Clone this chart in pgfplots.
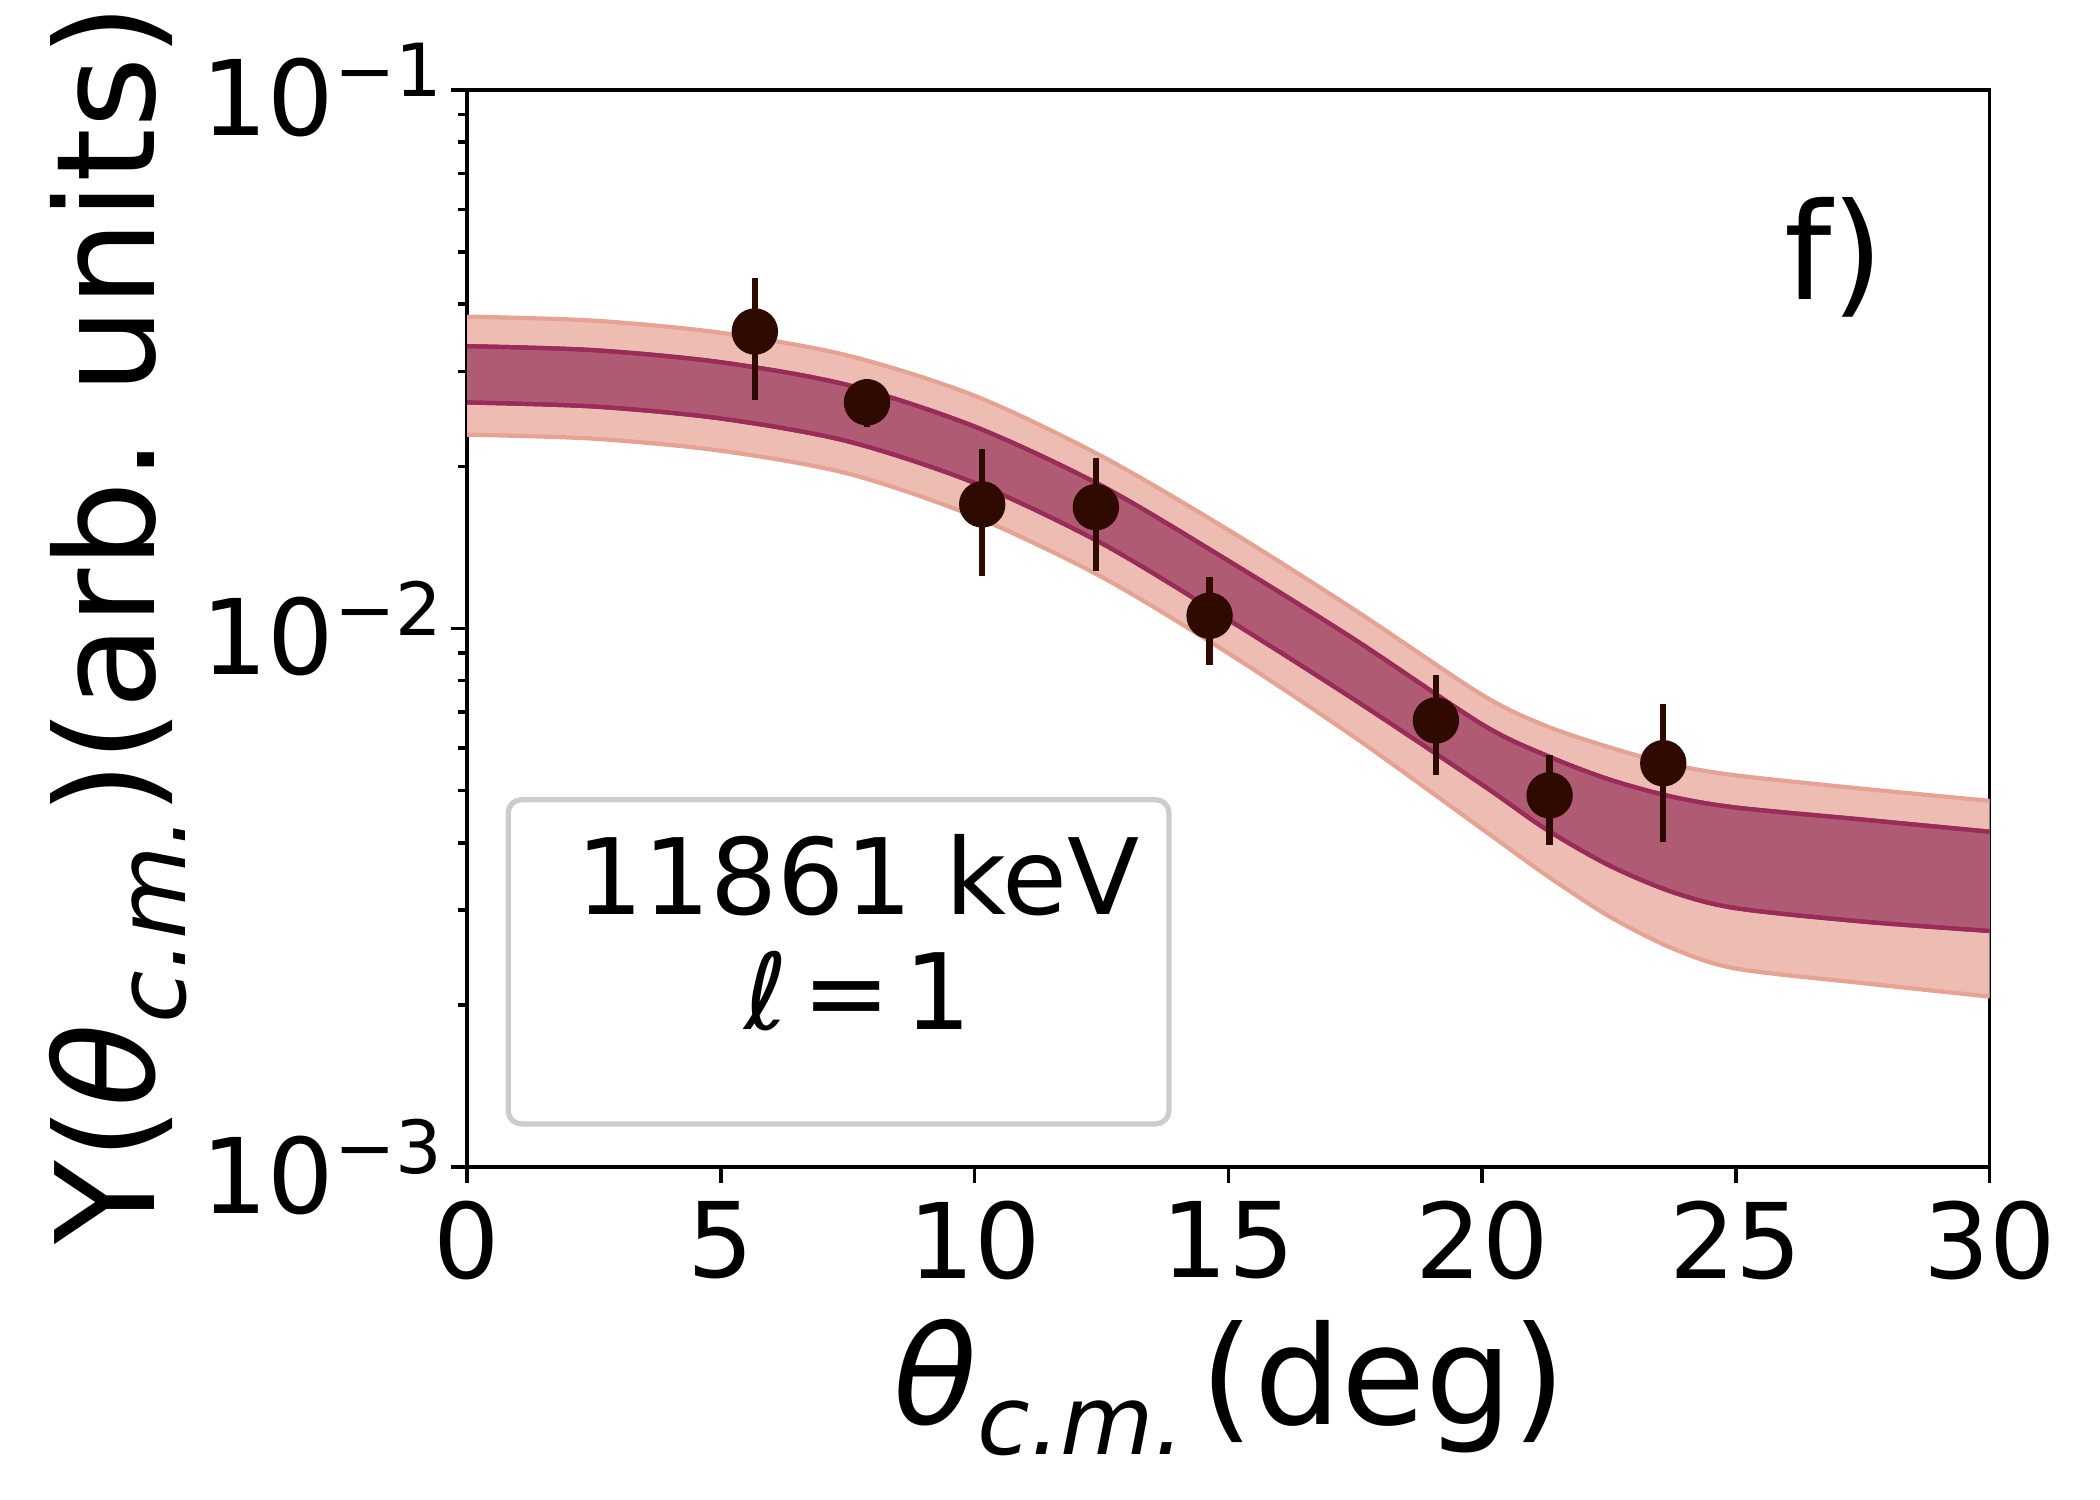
\documentclass[border=0pt]{standalone}
\usepackage{fontspec}
\setmainfont{DejaVu Sans}
\usepackage{pgfplots}
\usepackage{pgfplotstable}
\pgfplotsset{compat=1.18}
\usepgfplotslibrary{fillbetween}
\frenchspacing
\definecolor{lightfill}{HTML}{EDBDB3}
\definecolor{lightedge}{HTML}{E6A393}
\definecolor{darkfill}{HTML}{B05B74}
\definecolor{darkedge}{HTML}{9A2C5A}
\definecolor{ptcol}{HTML}{2E0A00}
\newcommand{\tenexp}[1]{10\raisebox{7.5pt}{\fontsize{13.9}{13.9}\selectfont −#1}}
\newcommand{\thcm}{\textit{θ}\raisebox{-5.7pt}{\fontsize{18.2}{18.2}\selectfont\itshape c.m.}}

\pgfplotstableread{
theta lt dt db lb
0     0.03794 0.03344 0.02628 0.02290
2.5   0.03729 0.03287 0.02583 0.02251
5     0.03541 0.03122 0.02454 0.02138
7.5   0.03213 0.02832 0.02226 0.01940
10    0.02705 0.02371 0.01863 0.01614
12.5  0.02090 0.01842 0.01440 0.01247
15    0.01524 0.01336 0.01038 0.008994
17.5  0.01081 0.009524 0.007358 0.006268
20    0.007529 0.006636 0.005127 0.004243
21.25 0.006598 0.005818 0.004243 0.003490
22.5  0.006021 0.005245 0.003633 0.002922
23.75 0.005587 0.004869 0.003240 0.002547
25    0.005336 0.004651 0.003024 0.002336
27.5  0.005039 0.004417 0.002856 0.002195
30    0.004786 0.004194 0.002743 0.002072
}\band

\pgfplotstableread{
x y ep em
5.67  0.0356  0.0092  0.0090
7.88  0.0263  0.0027  0.0026
10.15 0.0170  0.0045  0.0045
12.39 0.0168  0.0039  0.0040
14.63 0.01056 0.00191 0.00202
19.09 0.00675 0.00145 0.00141
21.33 0.0049  0.00092 0.00094
23.57 0.00562 0.00161 0.00161
}\pts

\begin{document}
\begin{tikzpicture}
\begin{semilogyaxis}[
  name=ax,
  at={(0,0)}, anchor=south west,
  scale only axis,
  width=10.15cm, height=7.18cm,
  xmin=0, xmax=30, ymin=1e-3, ymax=1e-1,
  xtick={0,5,10,15,20,25,30},
  ytick={1e-3,1e-2,1e-1},
  yticklabels={{\tenexp{3}},{\tenexp{2}},{\tenexp{1}}},
  tick pos=left,
  tick align=outside,
  major tick length=3pt,
  minor tick length=1.8pt,
  axis line style={line width=0.7pt},
  every tick/.style={black, line width=0.7pt},
  /pgf/number format/assume math mode=true,
  tick label style={font=\fontsize{19.8}{19.8}\selectfont},
  yticklabel style={xshift=1.8pt},
  xlabel={\thcm\hspace{3pt}(deg)},
  ylabel={Y(\thcm)(arb. units)},
  xlabel style={at={(axis description cs:0.501,-0.239)}, anchor=base, font=\fontsize{26}{26}\selectfont},
  ylabel style={at={(axis description cs:-0.205,0.504)}, anchor=base, font=\fontsize{26}{26}\selectfont},
  clip=true,
]
% light band
\addplot[name path=lt, draw=lightedge, line width=0.8pt, smooth] table[x=theta,y=lt]{\band};
\addplot[name path=lb, draw=lightedge, line width=0.8pt, smooth] table[x=theta,y=lb]{\band};
\addplot[fill=lightfill, draw=none] fill between[of=lt and lb];
% dark band
\addplot[name path=dt, draw=darkedge, line width=0.8pt, smooth] table[x=theta,y=dt]{\band};
\addplot[name path=db, draw=darkedge, line width=0.8pt, smooth] table[x=theta,y=db]{\band};
\addplot[fill=darkfill, draw=none] fill between[of=dt and db];
\addplot[draw=darkedge, line width=0.8pt, smooth] table[x=theta,y=dt]{\band};
\addplot[draw=darkedge, line width=0.8pt, smooth] table[x=theta,y=db]{\band};
% data
\addplot[only marks, mark=*, mark size=4.2pt, color=ptcol,
  error bars/.cd, y dir=both, y explicit, error mark=none,
  error bar style={line width=1.2pt, color=ptcol}]
  table[x=x, y=y, y error plus=ep, y error minus=em]{\pts};
% legend-like box
\draw[rounded corners=2.5pt, draw=black!20, line width=1pt, fill=white, fill opacity=0.8]
  (rel axis cs:0.027,0.040) rectangle (rel axis cs:0.461,0.341);
\node[anchor=base, font=\fontsize{20}{20}\selectfont] at (rel axis cs:0.257,0.234) {11861 keV};
\node[anchor=base, font=\fontsize{20}{20}\selectfont] at (rel axis cs:0.257,0.128) {\textit{ℓ}\hspace{2.7pt}=\hspace{2.7pt}1};
\node[font=\fontsize{25.5}{25.5}\selectfont] at (rel axis cs:0.898,0.845) {f)};
\end{semilogyaxis}
\pgfresetboundingbox
\useasboundingbox (-3.114,-2.22) rectangle (10.886,7.78);
\end{tikzpicture}
\end{document}
